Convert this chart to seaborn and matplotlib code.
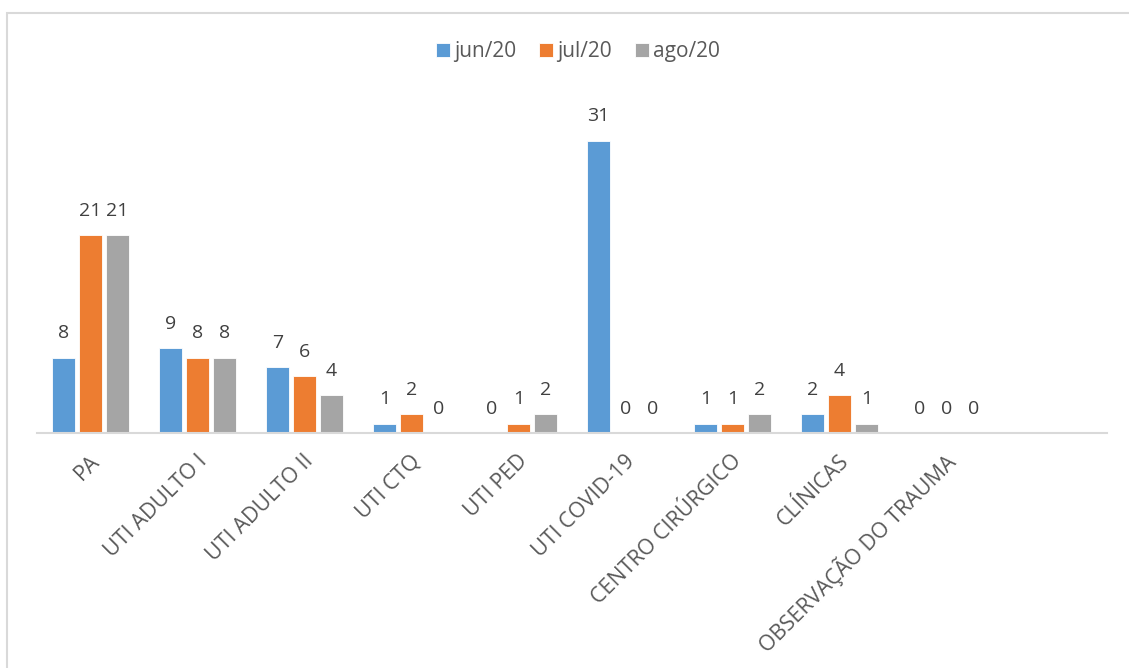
import numpy as np
import pandas as pd
import matplotlib.pyplot as plt
from matplotlib.patches import Rectangle
from matplotlib.transforms import ScaledTranslation
import seaborn as sns

categories = ["PA", "UTI ADULTO I", "UTI ADULTO II", "UTI CTQ", "UTI PED",
              "UTI COVID-19", "CENTRO CIRÚRGICO", "CLÍNICAS", "OBSERVAÇÃO DO TRAUMA"]
months = ["jun/20", "jul/20", "ago/20"]
jun = [8, 9, 7, 1, 0, 31, 1, 2, 0]
jul = [21, 8, 6, 2, 1, 0, 1, 4, 0]
ago = [21, 8, 4, 0, 2, 0, 2, 1, 0]
colors = ["#5B9BD5", "#ED7D31", "#A5A5A5"]

df = pd.DataFrame({
    "setor": categories * 3,
    "mes": [m for m in months for _ in categories],
    "valor": jun + jul + ago,
})

sns.set_style("white")
plt.rcParams["font.family"] = ["Open Sans", "DejaVu Sans"]
text_color = "#595959"

W, H = 1129, 668
fig = plt.figure(figsize=(W / 100, H / 100), dpi=100)
ax = fig.add_axes([37 / W, (H - 433) / H, (1107 - 37) / W, (433 - 103) / H])

sns.barplot(data=df, x="setor", y="valor", hue="mes", hue_order=months,
            palette=colors, width=0.757, gap=0.18, edgecolor="white",
            linewidth=0.6, saturation=1, ax=ax)

for cont in ax.containers:
    ax.bar_label(cont, fmt="%d", padding=11, fontsize=14, color="#404040")

ax.set_xlim(-0.5, 9.5)
ax.set_ylim(0, 35)
ax.set_xlabel("")
ax.set_ylabel("")
ax.set_yticks([])
for s in ["top", "right", "left"]:
    ax.spines[s].set_visible(False)
ax.spines["bottom"].set_color("#D9D9D9")
ax.spines["bottom"].set_linewidth(1.5)
ax.tick_params(axis="x", length=0, pad=18)
shift = ScaledTranslation(6 / 100, 0, fig.dpi_scale_trans)
for lbl in ax.get_xticklabels():
    lbl.set_rotation(45)
    lbl.set_ha("right")
    lbl.set_va("center")
    lbl.set_rotation_mode("anchor")
    lbl.set_fontsize(15.5)
    lbl.set_color(text_color)
    lbl.set_transform(lbl.get_transform() + shift)

sns.move_legend(ax, "center", bbox_to_anchor=(578 / W, 1 - 52 / H),
                bbox_transform=fig.transFigure, ncol=3, frameon=False, title=None,
                fontsize=15, handlelength=0.68, handleheight=0.68,
                handletextpad=0.2, columnspacing=1.1)
for t in ax.get_legend().get_texts():
    t.set_color(text_color)

# chart area border (only top and left visible in the crop)
fig.patches.append(Rectangle((7 / W, -0.1), 1.2, (H - 13) / H + 0.1,
                             transform=fig.transFigure, fill=False,
                             edgecolor="#D9D9D9", linewidth=1.5))

fig.savefig("out.png", dpi=100)
